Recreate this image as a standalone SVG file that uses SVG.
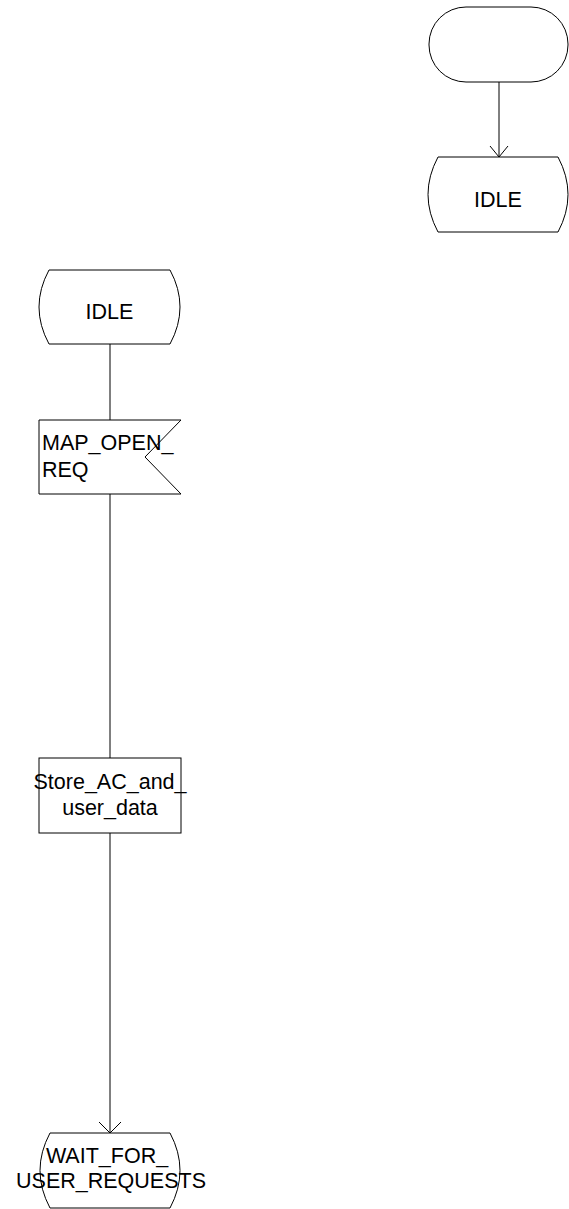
<svg xmlns="http://www.w3.org/2000/svg" width="569" height="1209" viewBox="0 0 569 1209">
<style>
.shape{fill:#ffffff;stroke:#000000;stroke-width:1}
.conn{fill:none;stroke:#000000;stroke-width:1}
.t{font-family:"Liberation Sans",Arial,sans-serif;font-size:21.5px;fill:#000000}
.c{text-anchor:middle}
</style>
<rect width="569" height="1209" fill="#ffffff"/>
<g id="connectors">
<line class="conn" x1="499" y1="82" x2="499" y2="157"/>
<polyline class="conn" points="490,146 499,157 508,146"/>
<line class="conn" x1="110" y1="344" x2="110" y2="420"/>
<line class="conn" x1="110" y1="494" x2="110" y2="758"/>
<line class="conn" x1="110" y1="833" x2="110" y2="1133"/>
<polyline class="conn" points="99,1122 110,1133 121,1122"/>
</g>
<g id="start">
<rect class="shape" x="429" y="7" width="139" height="75" rx="37" ry="37"/>
</g>
<g id="idle_top">
<path class="shape" d="M438,157 H558 Q578,194.5 558,232 H438 Q418,194.5 438,157 Z"/>
<text class="t c" x="498" y="207">IDLE</text>
</g>
<g id="idle_left">
<path class="shape" d="M49,270 H170 Q190,307 170,344 H49 Q29,307 49,270 Z"/>
<text class="t c" x="109.5" y="319">IDLE</text>
</g>
<g id="map_open_req">
<polygon class="shape" points="39,420 181,420 145,457 181,494 39,494"/>
<text class="t" x="42" y="450">MAP_OPEN_</text>
<text class="t" x="42" y="477">REQ</text>
</g>
<g id="store_ac">
<rect class="shape" x="39" y="758" width="142" height="75"/>
<text class="t c" x="110" y="789">Store_AC_and_</text>
<text class="t c" x="110" y="815">user_data</text>
</g>
<g id="wait_for_user_requests">
<path class="shape" d="M50,1133 H170 Q190,1170.5 170,1208 H50 Q30,1170.5 50,1133 Z"/>
<text class="t c" x="107" y="1163">WAIT_FOR_</text>
<text class="t c" x="111" y="1188">USER_REQUESTS</text>
</g>
</svg>
